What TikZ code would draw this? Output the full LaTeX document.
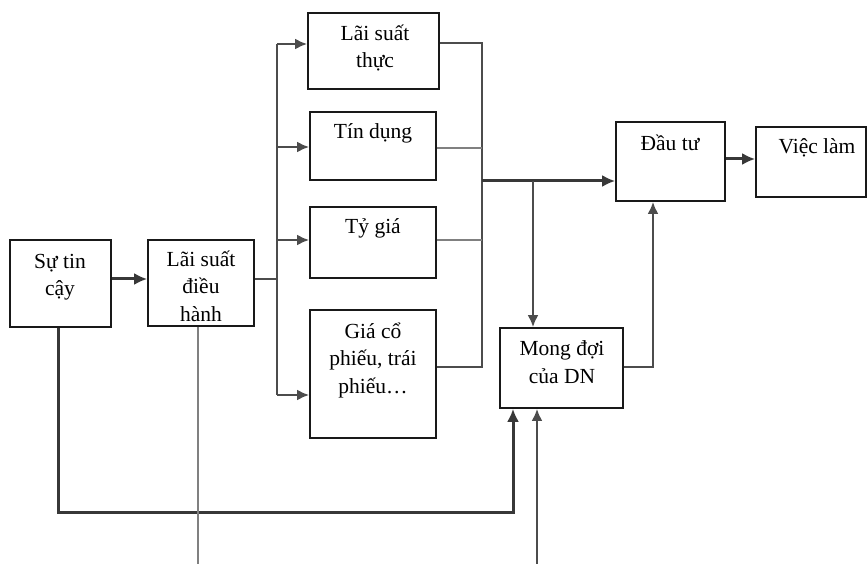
\documentclass[tikz,border=0pt]{standalone}
\usepackage{fontspec}
\setmainfont{Liberation Serif}
\usetikzlibrary{arrows.meta}
\begin{document}
\begin{tikzpicture}[x=1pt,y=-1pt,
  box/.style={draw=black!90,line width=1.7pt,rectangle,inner sep=0pt,fill=white},
  txt/.style={align=center,font=\fontsize{21.5}{27.5}\selectfont,inner sep=0pt},
  thk/.style={draw=black!78,line width=3pt},
  med/.style={draw=black!70,line width=2.4pt},
  thn/.style={draw=black!50,line width=1.2pt},
  arr/.style={-{Latex[length=13pt,width=12pt]}},
  arrs/.style={-{Latex[length=12pt,width=11pt]}}]
\useasboundingbox[fill=white] (0,0) rectangle (868,564);

% boxes
\node[box,minimum width=101pt,minimum height=87pt] (sutin) at (60.5,283.5) {};
\node[box,minimum width=106pt,minimum height=86pt] (lsdh) at (201,283) {};
\node[box,minimum width=131pt,minimum height=76pt] (lst) at (373.5,51) {};
\node[box,minimum width=126pt,minimum height=68pt] (td) at (373,146) {};
\node[box,minimum width=126pt,minimum height=71pt] (tg) at (373,242.5) {};
\node[box,minimum width=126pt,minimum height=128pt] (gcp) at (373,374) {};
\node[box,minimum width=109pt,minimum height=79pt] (dautu) at (670.5,161.5) {};
\node[box,minimum width=110pt,minimum height=70pt] (vieclam) at (811,162) {};
\node[box,minimum width=123pt,minimum height=80pt] (mongdoi) at (561.5,368) {};

% texts
\node[txt] (tsutin) at (60,277) {Sự tin\\cậy};
\node[txt] (tlsdh) at (201,286) {Lãi suất\\điều\\hành};
\node[txt] (tlst) at (375,48) {Lãi suất\\thực};
\node[txt] (ttd) at (373,133) {Tín dụng};
\node[txt] (ttg) at (373,228) {Tỷ giá};
\node[txt] (tgcp) at (373,360) {Giá cổ\\phiếu, trái\\phiếu…};
\node[txt] (tdautu) at (670,143) {Đầu tư};
\node[txt] (tvieclam) at (817,148) {Việc làm};
\node[txt] (tmongdoi) at (562,362) {Mong đợi\\của DN};

% helper coordinates
\coordinate (bl1) at (277,44);
\coordinate (bl2) at (277,147);
\coordinate (bl3) at (277,240);
\coordinate (bl4) at (277,395);
\coordinate (blm) at (277,279);
\coordinate (br1) at (482,43);
\coordinate (br2) at (482,148);
\coordinate (br3) at (482,240);
\coordinate (br4) at (482,367);
\coordinate (brm) at (482,181);
\coordinate (brn) at (533,181);
\coordinate (mr) at (653,367);
\coordinate (vl) at (0,159);
\coordinate (lp1) at (58,512);
\coordinate (lp2) at (513,512);
\coordinate (bot1) at (198,564);
\coordinate (bot2) at (537,564);

% left side
\draw[thk,arr] (sutin.east |- blm) -- (lsdh.west |- blm);
\draw[med] (lsdh.east |- blm) -- (blm);
\draw[med] (bl1) -- (bl4);
\draw[med,arrs] (bl1) -- (lst.west |- bl1);
\draw[med,arrs] (bl2) -- (td.west |- bl2);
\draw[med,arrs] (bl3) -- (tg.west |- bl3);
\draw[med,arrs] (bl4) -- (gcp.west |- bl4);

% right bus
\draw[med] (lst.east |- br1) -- (br1) -- (br4) -- (gcp.east |- br4);
\draw[thn] (td.east |- br2) -- (br2);
\draw[thn] (tg.east |- br3) -- (br3);
\draw[thk,arr] (brm) -- (dautu.west |- brm);
\draw[med,arrs] (brn) -- (mongdoi.north -| brn);
\draw[med,arrs] (mongdoi.east |- mr) -- (mr) -- (dautu.south -| mr);
\draw[thk,arr] (dautu.east |- vl) -- (vieclam.west |- vl);

% bottom
\draw[thk,arr] (sutin.south -| lp1) -- (lp1) -- (lp2) -- (mongdoi.south -| lp2);
\draw[thn] (lsdh.south -| bot1) -- (bot1);
\draw[med,arrs] (bot2) -- (mongdoi.south -| bot2);
\end{tikzpicture}
\end{document}
